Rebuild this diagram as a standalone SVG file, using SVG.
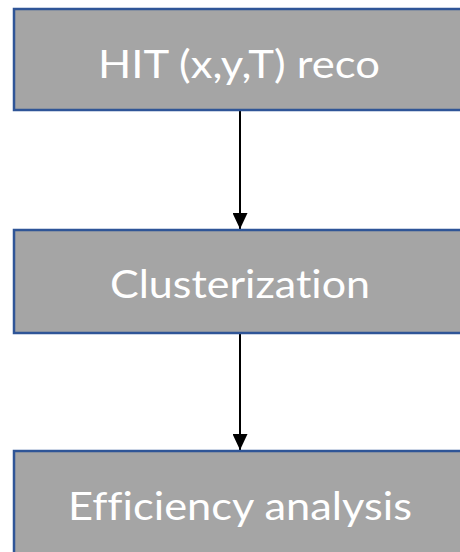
<svg xmlns="http://www.w3.org/2000/svg" width="460" height="552" viewBox="0 0 460 552">
  <style>
    .box { fill: #a5a5a5; stroke: #2f5597; stroke-width: 2.5; }
    .label { fill: #ffffff; font-family: "Lato", "Open Sans", "Liberation Sans", sans-serif; font-size: 38px; text-anchor: middle; font-variant-ligatures: none; }
    .edge { stroke: #000000; stroke-width: 2; fill: none; }
  </style>
  <defs>
    <marker id="arrow" markerWidth="16" markerHeight="15" refX="16" refY="7.5" orient="auto" markerUnits="userSpaceOnUse">
      <path d="M0,0 L16,7.5 L0,15 z" fill="#000000"/>
    </marker>
  </defs>
  <rect width="460" height="552" fill="#ffffff"/>

  <g id="connectors">
    <line class="edge" x1="240" y1="111" x2="240" y2="229" marker-end="url(#arrow)"/>
    <line class="edge" x1="240" y1="334" x2="240" y2="450" marker-end="url(#arrow)"/>
  </g>

  <g id="node-hit-reco">
    <rect class="box" x="14" y="9" width="460" height="101"/>
    <text class="label" x="239" y="78" textLength="282" lengthAdjust="spacingAndGlyphs">HIT (x,y,T) reco</text>
  </g>

  <g id="node-clusterization">
    <rect class="box" x="14" y="230" width="460" height="103"/>
    <text class="label" x="240" y="298" textLength="260" lengthAdjust="spacingAndGlyphs">Clusterization</text>
  </g>

  <g id="node-efficiency">
    <rect class="box" x="14" y="451" width="460" height="120"/>
    <text class="label" x="240" y="520" textLength="344" lengthAdjust="spacingAndGlyphs">Efficiency analysis</text>
  </g>
</svg>
